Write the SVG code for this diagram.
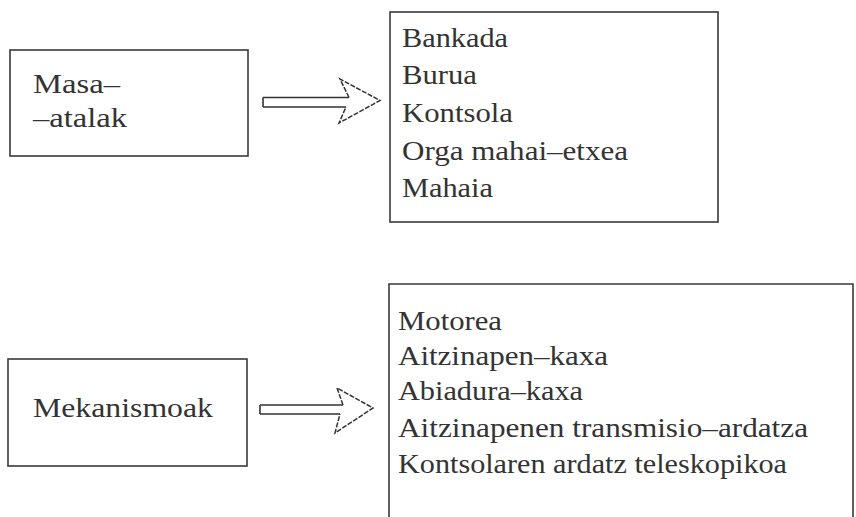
<svg xmlns="http://www.w3.org/2000/svg" width="856" height="517" viewBox="0 0 856 517">
  <style>
    .box { fill: none; stroke: #3a3a3a; stroke-width: 1.6; }
    .lbl { font-family: "Liberation Serif", "Times New Roman", serif; font-size: 28px; fill: #333333; }
    .arrow { fill: #ffffff; stroke: #333333; stroke-width: 1.6; stroke-linejoin: miter; }
    .head { fill: none; stroke: #333333; stroke-width: 1.5; stroke-dasharray: 5 1.5; }
  </style>
  <rect width="856" height="517" fill="#ffffff"/>

  <!-- Masa-atalak -->
  <g id="masa-atalak">
    <rect class="box" x="10" y="50" width="238" height="106"/>
    <text class="lbl" x="33" y="93" textLength="87" lengthAdjust="spacingAndGlyphs">Masa–</text>
    <text class="lbl" x="33" y="127" textLength="94" lengthAdjust="spacingAndGlyphs">–atalak</text>
  </g>

  <!-- list of parts -->
  <g id="masa-atalak-zerrenda">
    <rect class="box" x="390" y="12" width="328" height="210"/>
    <text class="lbl" x="402" y="47" textLength="106" lengthAdjust="spacingAndGlyphs">Bankada</text>
    <text class="lbl" x="402" y="84" textLength="75" lengthAdjust="spacingAndGlyphs">Burua</text>
    <text class="lbl" x="402" y="122" textLength="111" lengthAdjust="spacingAndGlyphs">Kontsola</text>
    <text class="lbl" x="402" y="160" textLength="226" lengthAdjust="spacingAndGlyphs">Orga mahai–etxea</text>
    <text class="lbl" x="402" y="197" textLength="91" lengthAdjust="spacingAndGlyphs">Mahaia</text>
  </g>

  <!-- Mekanismoak -->
  <g id="mekanismoak">
    <rect class="box" x="8" y="359" width="239" height="107"/>
    <text class="lbl" x="33" y="417" textLength="180" lengthAdjust="spacingAndGlyphs">Mekanismoak</text>
  </g>

  <!-- list of mechanisms (open at the bottom) -->
  <g id="mekanismoak-zerrenda">
    <path class="box" d="M389 517 V284 H853 V517"/>
    <text class="lbl" x="398" y="330" textLength="104" lengthAdjust="spacingAndGlyphs">Motorea</text>
    <text class="lbl" x="398" y="365" textLength="210" lengthAdjust="spacingAndGlyphs">Aitzinapen–kaxa</text>
    <text class="lbl" x="398" y="400" textLength="185" lengthAdjust="spacingAndGlyphs">Abiadura–kaxa</text>
    <text class="lbl" x="398" y="437" textLength="410" lengthAdjust="spacingAndGlyphs">Aitzinapenen transmisio–ardatza</text>
    <text class="lbl" x="398" y="473" textLength="389" lengthAdjust="spacingAndGlyphs">Kontsolaren ardatz teleskopikoa</text>
  </g>

  <!-- hollow double-line arrows -->
  <g id="connectors">
    <g id="arrow-1">
      <path class="arrow" d="M263 97.5 H349 M263 107 H346 M263 97.5 V107"/>
      <path class="head" d="M349 97.5 L340 79 L380 100.5 L339 123 L346 107"/>
    </g>
    <g id="arrow-2">
      <path class="arrow" d="M260 405 H343 M260 414 H340 M260 405 V414"/>
      <path class="head" d="M343 405 L337 388 L373 408 L335 433 L340 414"/>
    </g>
  </g>
</svg>
